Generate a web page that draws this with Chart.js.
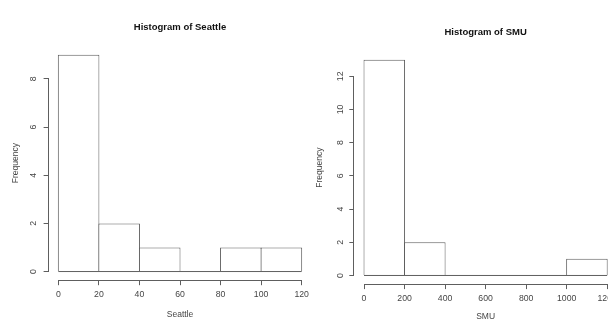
<!DOCTYPE html>
<html>
<head>
<meta charset="utf-8">
<script src="https://cdn.jsdelivr.net/npm/chart.js@4.4.1/dist/chart.umd.min.js"></script>
<style>
  html, body { margin: 0; padding: 0; background: #fff; width: 608px; height: 320px; overflow: hidden; }
  .panel { position: absolute; top: 0; width: 330px; height: 340px; }
  #seattlePanel { left: 0; }
  #smuPanel { left: 300px; }
</style>
</head>
<body>
<div class="panel" id="seattlePanel"><canvas id="seattleChart"></canvas></div>
<div class="panel" id="smuPanel"><canvas id="smuChart"></canvas></div>
<script>
// Seattle histogram
const seattleBreaks = [0, 20, 40, 60, 80, 100, 120];
const seattleCounts = [9, 2, 1, 0, 1, 1];
const seattleXTicks = [0, 20, 40, 60, 80, 100, 120];
const seattleYTicks = [0, 2, 4, 6, 8];

// SMU histogram
const smuBreaks = [0, 200, 400, 600, 800, 1000, 1200];
const smuCounts = [13, 2, 0, 0, 0, 1];
const smuXTicks = [0, 200, 400, 600, 800, 1000, 1200];
const smuYTicks = [0, 2, 4, 6, 8, 10, 12];

const lineColor = '#5e5e5e';
const textColor = '#454545';

Chart.defaults.font.family = '"Liberation Sans", Arial, sans-serif';
Chart.defaults.animation = false;

// R style axes: line only from first to last tick
const rAxisLines = {
  id: 'rAxisLines',
  afterDraw(chart) {
    const { ctx, scales: { x, y } } = chart;
    const xt = x.ticks;
    const yt = y.ticks;
    ctx.save();
    ctx.strokeStyle = lineColor;
    ctx.lineWidth = 1;
    ctx.beginPath();
    const yb = Math.round(x.top) + 0.5;
    ctx.moveTo(x.getPixelForValue(xt[0].value), yb);
    ctx.lineTo(x.getPixelForValue(xt[xt.length - 1].value), yb);
    const xl = Math.round(y.right) - 0.5;
    ctx.moveTo(xl, y.getPixelForValue(yt[0].value));
    ctx.lineTo(xl, y.getPixelForValue(yt[yt.length - 1].value));
    ctx.stroke();
    ctx.restore();
  }
};

function histogramChart(canvasId, h) {
  const bars = h.counts.map((c, i) => ({ x: (h.breaks[i] + h.breaks[i + 1]) / 2, y: c }));
  const baseline = [{ x: h.breaks[0], y: 0 }, { x: h.breaks[h.breaks.length - 1], y: 0 }];

  // R extends the ranges by 4%
  const xPad = 0.04 * (h.breaks[h.breaks.length - 1] - h.breaks[0]);
  const yPad = 0.04 * Math.max(...h.counts);

  return new Chart(document.getElementById(canvasId), {
    type: 'bar',
    data: {
      datasets: [
        {
          type: 'line',
          data: baseline,
          borderColor: lineColor,
          borderWidth: 1,
          pointRadius: 0
        },
        {
          data: bars,
          backgroundColor: '#fff',
          borderColor: lineColor,
          borderWidth: 1,
          borderSkipped: 'start',
          inflateAmount: 0,
          barPercentage: 1.025,
          categoryPercentage: 1
        }
      ]
    },
    options: {
      responsive: true,
      maintainAspectRatio: false,
      events: [],
      layout: { padding: { left: 0, top: 0, right: h.padRight, bottom: 0 } },
      plugins: {
        legend: { display: false },
        tooltip: { enabled: false },
        title: {
          display: true,
          text: h.title,
          color: '#111',
          fullSize: false,
          font: { size: 9.5, weight: 'bold' },
          padding: { top: h.titleTop, bottom: h.titleBottom }
        }
      },
      scales: {
        x: {
          type: 'linear',
          offset: false,
          min: h.breaks[0] - xPad,
          max: h.breaks[h.breaks.length - 1] + xPad,
          afterBuildTicks: (s) => { s.ticks = h.xTicks.map(v => ({ value: v })); },
          afterFit: (s) => { s.height = h.xHeight; },
          border: { display: false },
          grid: { offset: false, drawOnChartArea: false, drawTicks: true, tickLength: 5, color: lineColor },
          ticks: {
            color: textColor,
            font: { size: 8.7 },
            padding: 4,
            maxRotation: 0,
            autoSkip: false,
            callback: (v) => String(v)
          },
          title: {
            display: true,
            text: h.xLabel,
            color: textColor,
            font: { size: 8.5 },
            padding: { top: 0, bottom: h.xTitleBottom }
          }
        },
        y: {
          min: -yPad,
          max: Math.max(...h.counts) + yPad,
          afterBuildTicks: (s) => { s.ticks = h.yTicks.map(v => ({ value: v })); },
          afterFit: (s) => { s.width = h.yWidth; },
          border: { display: false },
          grid: { drawOnChartArea: false, drawTicks: true, tickLength: 5, color: lineColor },
          ticks: {
            color: textColor,
            font: { size: 8.7 },
            minRotation: 90,
            maxRotation: 90,
            crossAlign: 'center',
            padding: h.yTickPad,
            callback: (v) => String(v)
          },
          title: {
            display: true,
            text: 'Frequency',
            color: textColor,
            font: { size: 8.5 },
            padding: { top: h.yTitleTop, bottom: 0 }
          }
        }
      }
    },
    plugins: [rAxisLines]
  });
}

histogramChart('seattleChart', {
  title: 'Histogram of Seattle',
  xLabel: 'Seattle',
  breaks: seattleBreaks,
  counts: seattleCounts,
  xTicks: seattleXTicks,
  yTicks: seattleYTicks,
  padRight: 18.6,
  titleTop: 21.3,
  titleBottom: 13.5,
  xHeight: 59.8,
  xTitleBottom: 20.6,
  yWidth: 48.6,
  yTickPad: 8,
  yTitleTop: 10.6
});

histogramChart('smuChart', {
  title: 'Histogram of SMU',
  xLabel: 'SMU',
  breaks: smuBreaks,
  counts: smuCounts,
  xTicks: smuXTicks,
  yTicks: smuYTicks,
  padRight: 13.1,
  titleTop: 26.3,
  titleBottom: 13.4,
  xHeight: 55.9,
  xTitleBottom: 18.2,
  yWidth: 54.3,
  yTickPad: 3.5,
  yTitleTop: 15
});
</script>
</body>
</html>
